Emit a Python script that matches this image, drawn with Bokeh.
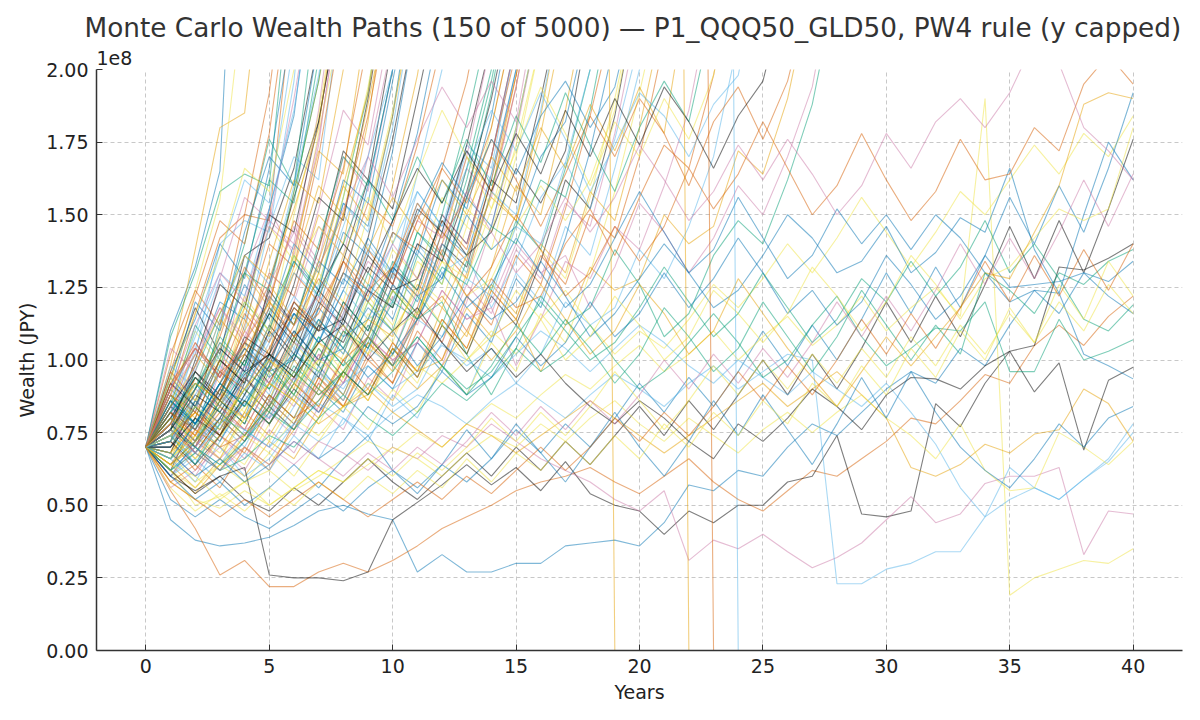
from bokeh.plotting import figure
from bokeh.models import ColumnDataSource, FixedTicker, NumeralTickFormatter, Title
from bokeh.embed import file_html
from bokeh.resources import INLINE

# ---------------- data (wealth in units of 1e8 JPY) ----------------
YEARS = list(range(41))
X_TICKS = [0, 5, 10, 15, 20, 25, 30, 35, 40]
Y_TICKS = [0.0, 0.25, 0.5, 0.75, 1.0, 1.25, 1.5, 1.75, 2.0]
TITLE = "Monte Carlo Wealth Paths (150 of 5000) \u2014 P1_QQQ50_GLD50, PW4 rule (y capped)"
SCALE_LABEL = "1e8"

# paths that stay (mostly) inside the capped range for 40 years
LOW_PATHS = [
    [0.70,0.45,0.38,0.36,0.37,0.39,0.43,0.48,0.50,0.47,0.45,0.27,0.33,0.27,0.27,0.30,0.30,0.36,0.37,0.38,0.36,0.44,0.57,0.55,0.62,0.60,0.70,0.78,0.74,0.82,0.90,0.96,0.92,1.04,0.98,1.12,1.24,1.16,1.30,1.27,1.34],
    [0.70,0.55,0.42,0.26,0.31,0.22,0.22,0.27,0.30,0.27,0.31,0.36,0.42,0.46,0.50,0.55,0.58,0.60,0.63,0.58,0.54,0.60,0.66,0.58,0.52,0.48,0.55,0.62,0.60,0.66,0.72,0.80,0.78,0.86,0.95,0.92,1.05,1.12,1.05,1.15,1.22],
    [0.70,0.60,0.55,0.60,0.63,0.26,0.25,0.25,0.24,0.27,0.45,0.51,0.57,0.64,0.57,0.63,0.55,0.65,0.54,0.50,0.48,0.40,0.48,0.44,0.50,0.50,0.58,0.60,0.74,0.47,0.46,0.48,0.85,0.77,0.92,1.03,1.05,1.32,1.31,1.35,1.40],
    [0.70,0.62,0.50,0.53,0.58,0.62,0.55,0.60,0.66,0.72,0.68,0.75,0.70,0.78,0.85,0.80,0.88,0.95,0.90,0.98,1.05,0.96,1.02,1.10,1.00,1.08,1.15,1.05,1.12,1.22,1.10,1.18,1.25,1.15,1.90,0.19,0.25,0.28,0.31,0.30,0.35],
    [0.70,0.78,0.72,0.66,0.75,0.70,0.64,0.72,0.68,0.62,0.70,0.66,0.74,0.70,0.78,0.72,0.66,0.62,0.58,0.52,0.48,0.55,0.31,0.38,0.35,0.40,0.34,0.285,0.32,0.37,0.45,0.53,0.44,0.47,0.575,0.60,0.60,0.63,0.33,0.48,0.47],
    [0.70,0.66,0.72,0.80,0.76,0.70,0.78,0.85,0.80,0.74,0.82,0.88,0.84,0.78,0.86,0.92,0.86,0.80,0.88,0.95,0.90,0.84,0.92,0.98,0.90,0.96,1.02,1.00,0.23,0.23,0.28,0.30,0.34,0.34,0.46,0.52,0.56,0.52,0.59,0.65,0.75],
    [0.70,0.74,0.68,0.78,0.85,0.80,0.88,0.82,0.92,0.98,0.90,0.96,1.05,1.00,0.94,1.02,1.10,1.04,0.96,1.04,1.12,1.06,0.98,0.92,1.00,0.94,0.88,0.96,0.90,0.84,0.92,0.82,0.71,0.56,0.46,0.63,0.56,0.52,0.59,0.66,0.78],
    [0.70,0.80,0.74,0.86,0.80,0.92,0.86,0.78,0.84,0.90,0.82,0.76,0.70,0.78,0.74,0.68,0.74,0.80,0.86,0.80,0.74,0.68,0.74,0.80,0.86,0.92,0.84,0.90,0.96,0.88,0.80,0.63,0.60,0.64,0.71,0.68,0.745,0.76,0.90,0.85,0.72],
    [0.70,0.58,0.52,0.49,0.55,0.50,0.56,0.62,0.58,0.64,0.70,0.66,0.60,0.68,0.74,0.70,0.78,0.72,0.80,0.86,0.78,0.72,0.80,0.74,0.68,0.76,0.82,0.75,0.82,0.88,0.80,0.74,0.66,0.78,0.62,0.55,0.56,0.75,0.70,0.64,0.72],
    [0.70,0.76,0.88,0.82,0.95,1.02,0.94,1.06,1.12,1.00,1.10,1.18,1.06,0.96,1.04,0.94,1.02,0.92,0.84,0.78,0.86,0.80,0.72,0.66,0.78,0.72,0.80,0.90,0.84,0.76,0.88,0.94,0.935,0.90,0.98,1.03,0.89,0.99,0.69,0.93,0.975],
    [0.70,0.82,0.76,0.90,0.86,0.98,1.10,1.00,1.04,1.18,1.10,0.98,1.08,1.22,1.14,1.20,1.34,1.22,1.08,1.16,1.28,1.40,1.30,1.18,1.24,1.36,1.50,1.42,1.30,1.34,1.46,1.30,1.37,1.49,1.44,1.66,1.38,1.23,1.02,0.98,0.935],
    [0.70,0.62,0.68,0.62,0.66,0.74,0.70,0.80,0.88,0.80,0.74,0.82,0.92,0.86,0.94,1.04,0.96,1.02,1.12,1.00,0.90,0.96,1.06,1.16,1.06,0.94,1.00,1.12,1.22,1.08,0.98,1.04,1.11,1.10,1.20,0.96,0.96,1.14,1.00,1.03,1.07],
    [0.70,0.76,0.70,0.64,0.72,0.82,0.76,0.86,0.96,0.88,0.96,1.08,0.98,0.90,0.96,1.08,1.20,1.10,1.00,1.06,1.18,1.32,1.20,1.08,1.16,1.30,1.18,1.06,1.14,1.28,1.20,1.34,1.22,1.32,1.48,1.30,1.40,1.28,1.14,1.10,1.19],
    [0.70,0.68,0.60,0.66,0.58,0.64,0.72,0.66,0.72,0.84,0.78,0.84,0.96,0.88,0.94,1.08,0.98,1.06,1.20,1.08,1.16,1.30,1.18,1.28,1.42,1.30,1.16,1.24,1.12,1.20,1.36,1.26,1.14,1.22,1.36,1.25,1.26,1.27,1.30,1.22,1.16],
    [0.70,0.86,0.78,0.92,1.04,0.94,1.02,1.14,1.04,0.94,1.02,1.14,1.30,1.18,1.26,1.42,1.30,1.18,1.26,1.42,1.58,1.44,1.30,1.38,1.56,1.42,1.28,1.36,1.52,1.40,1.50,1.38,1.50,1.42,1.30,1.20,1.24,1.23,1.50,1.75,1.62],
    [0.70,0.92,1.04,0.94,1.06,1.20,1.08,1.18,1.34,1.20,1.32,1.50,1.36,1.22,1.32,1.50,1.38,1.22,1.30,1.46,1.34,1.46,1.66,1.52,1.64,1.82,1.66,1.50,1.60,1.78,1.62,1.48,1.58,1.76,1.62,1.64,1.80,1.72,1.95,2.05,1.95],
    [0.70,0.74,0.84,0.78,0.90,1.00,0.92,1.00,1.12,1.02,1.10,1.24,1.12,1.00,1.08,1.24,1.14,1.00,1.08,1.22,1.12,1.00,1.08,1.24,1.16,1.06,1.16,1.32,1.22,1.10,1.20,1.36,1.26,1.14,1.28,1.32,1.42,1.52,1.48,1.52,1.80],
    [0.70,0.64,0.72,0.82,0.74,0.84,0.96,0.88,0.96,1.08,0.98,0.90,0.98,1.10,1.00,1.10,1.26,1.14,1.02,1.10,1.26,1.16,1.02,1.10,1.28,1.16,1.04,0.94,0.84,0.96,1.08,0.98,1.08,1.18,1.30,1.28,1.44,1.60,1.88,1.92,1.90],
    [0.70,0.90,1.04,0.94,1.06,1.22,1.12,1.22,1.10,1.24,1.40,1.28,1.40,1.58,1.44,1.30,1.40,1.56,1.44,1.56,1.74,1.62,1.48,1.58,1.74,1.62,1.76,1.64,1.50,1.60,1.78,1.66,1.82,1.90,1.80,1.92,2.10,2.02,1.80,1.72,1.62],
    [0.70,0.82,0.92,0.82,0.74,0.84,0.96,0.88,0.96,1.08,0.98,1.08,0.98,0.88,0.98,1.12,1.02,1.14,1.04,0.92,1.02,1.18,1.08,0.96,1.04,1.20,1.08,0.96,1.08,1.24,1.12,1.00,1.12,1.02,1.30,1.24,1.16,1.30,1.26,1.34,1.38],
    [0.70,0.60,0.52,0.58,0.50,0.56,0.64,0.56,0.66,0.74,0.62,0.54,0.64,0.76,0.66,0.78,0.68,0.58,0.70,0.82,0.70,0.60,0.72,0.86,0.74,0.88,0.76,0.64,0.78,0.94,0.80,0.96,0.82,0.70,0.62,0.56,0.66,0.78,0.70,0.80,0.84],
    [0.70,0.56,0.48,0.54,0.48,0.56,0.50,0.58,0.52,0.60,0.54,0.62,0.56,0.66,0.58,0.68,0.62,0.72,0.64,0.74,0.66,0.78,0.70,0.82,0.74,0.86,0.78,0.92,0.84,0.98,0.88,1.04,0.94,1.10,1.00,1.18,1.06,1.26,1.14,1.34,1.22],
    [0.70,0.64,0.60,0.52,0.58,0.50,0.56,0.62,0.58,0.66,0.60,0.68,0.62,0.70,0.80,0.72,0.82,0.74,0.84,0.96,0.86,0.76,0.86,0.98,0.88,1.00,0.90,1.02,0.92,1.04,0.94,1.08,0.98,1.12,1.02,1.16,1.06,1.20,1.10,1.26,1.16],
    [0.70,0.76,0.68,0.62,0.70,0.64,0.72,0.66,0.60,0.68,0.62,0.70,0.64,0.72,0.82,0.74,0.84,0.76,0.86,0.78,0.88,1.00,0.90,1.02,0.92,1.04,0.94,1.06,1.20,1.08,1.22,1.10,1.24,1.40,1.26,1.42,1.28,1.44,1.62,1.46,1.64],
    [0.70,0.58,0.52,0.46,0.52,0.46,0.52,0.58,0.52,0.46,0.52,0.58,0.52,0.60,0.54,0.62,0.70,0.62,0.70,0.80,0.72,0.82,0.74,0.84,0.96,0.86,0.98,0.88,1.00,1.14,1.02,1.16,1.04,1.18,1.34,1.20,1.36,1.22,1.38,1.24,1.40],
]
LOW_COLOR_KEYS = ["blue", "vermillion", "black", "yellow", "pink", "sky", "sky", "orange",
                  "yellow", "black", "blue", "green", "green", "blue", "blue", "vermillion",
                  "yellow", "orange", "pink", "green", "blue", "yellow", "yellow", "pink", "vermillion"]

# paths that leave the capped range in the middle years (~15-30)
MID_PATHS = [
    [0.70,0.78,0.66,0.74,0.84,0.92,1.06,0.96,1.04,1.20,1.10,1.16,1.34,1.22,1.28,1.46,1.60,1.48,1.62,1.86,2.30],
    [0.70,0.64,0.76,0.70,0.74,0.88,0.80,0.86,1.00,1.08,0.98,1.14,1.22,1.10,1.28,1.18,1.22,1.40,1.52,1.36,1.56,1.74,1.66,1.98,2.40],
    [0.70,0.82,0.94,0.86,0.92,1.08,1.16,1.06,1.24,1.14,1.20,1.40,1.30,1.36,1.18,1.34,1.56,1.68,1.52,1.76,2.10],
    [0.70,0.60,0.70,0.82,0.76,0.80,0.94,0.88,0.92,1.08,1.00,1.06,1.24,1.14,1.18,0.98,1.14,1.34,1.28,1.46,1.38,1.60,1.86,2.30],
    [0.70,0.76,0.90,1.04,0.96,1.02,1.18,1.10,1.14,1.32,1.24,1.28,1.48,1.36,1.44,1.66,1.54,1.72,2.20],
    [0.70,0.86,0.78,0.88,1.04,0.96,1.00,1.18,1.08,1.14,1.32,1.22,1.28,1.50,1.38,1.46,1.70,1.82,2.20],
    [0.70,0.62,0.54,0.64,0.70,0.64,0.76,0.90,0.84,0.88,1.04,0.96,1.00,1.18,1.08,1.14,0.96,1.12,1.32,1.24,1.28,1.50,1.40,1.46,1.72,1.64,1.90,2.30],
    [0.70,0.74,0.64,0.78,0.86,0.78,0.92,1.08,0.98,1.06,1.24,1.14,1.20,1.02,0.88,1.04,1.22,1.12,1.18,1.38,1.26,1.08,1.16,1.36,1.48,1.40,1.62,1.88,2.30],
    [0.70,0.68,0.58,0.64,0.74,0.68,0.80,0.74,0.84,0.92,0.86,0.98,0.92,1.00,1.10,1.02,1.14,1.24,1.12,1.02,1.10,1.04,1.14,1.26,1.18,1.28,1.40,1.30,1.42,1.56,1.44,1.32,1.44,1.58,1.50,1.62,1.74,1.64,1.78,1.70,1.84],
    [0.70,0.90,1.04,0.96,1.02,1.18,1.08,1.16,1.34,1.24,1.32,1.54,1.42,1.56,1.80,2.20],
    [0.70,0.66,0.78,0.70,0.60,0.66,0.78,0.72,0.78,0.92,0.84,0.90,1.06,0.98,1.04,0.92,1.02,1.20,1.12,1.18,1.38,1.28,1.46,1.70,2.10],
    [0.70,0.80,0.68,0.76,0.94,0.86,0.94,0.82,0.92,1.08,1.00,1.06,1.24,1.14,1.20,1.40,1.30,1.36,1.18,1.32,1.54,1.44,1.30,1.42,1.60,1.50,1.70,1.94,2.40],
    [0.70,0.62,0.54,0.60,0.52,0.48,0.56,0.50,0.58,0.66,0.58,0.52,0.60,0.68,0.60,0.70,0.62,0.72,0.64,0.74,0.84,0.74,0.86,0.76,0.88,1.00,0.88,1.02,0.90,1.04,1.20,1.06,1.22,1.08,1.26,1.46,1.28,1.48,1.30,1.52,1.76],
    [0.70,0.52,0.46,0.52,0.46,0.42,0.48,0.54,0.48,0.56,0.62,0.56,0.64,0.58,0.66,0.76,0.68,0.78,0.70,0.80,0.92,0.82,0.94,0.84,0.96,1.10,0.98,1.12,1.00,1.14,1.30,1.16,1.32,1.18,1.36,1.56,1.40,1.60,1.44,1.66,1.92],
    [0.70,0.74,0.82,0.76,0.90,1.00,0.94,1.06,1.00,1.14,1.08,1.26,1.18,1.36,1.56,1.48,1.78,2.20],
    [0.70,0.80,0.72,0.84,0.96,0.90,1.02,0.96,1.10,1.04,1.20,1.14,1.32,1.26,1.46,1.40,1.62,1.56,1.86,2.30],
    [0.70,0.66,0.74,0.84,0.80,0.92,0.86,1.00,0.94,1.08,1.24,1.16,1.34,1.28,1.52,1.80,2.20],
    [0.70,0.88,0.82,0.96,0.90,1.04,1.20,1.12,1.30,1.22,1.44,1.38,1.66,1.96,2.40],
    [0.70,0.62,0.70,0.64,0.76,0.70,0.84,0.96,0.90,1.04,0.98,1.14,1.08,1.28,1.22,1.46,1.40,1.68,2.00,2.40],
    [0.70,0.78,0.90,0.84,0.98,0.92,1.06,1.00,1.16,1.34,1.26,1.48,1.42,1.70,2.10],
    [0.70,0.70,0.80,0.74,0.88,1.02,0.96,1.12,1.06,1.24,1.18,1.40,1.34,1.58,1.90,2.30],
    [0.70,0.84,0.78,0.92,1.06,1.00,1.16,1.10,1.30,1.24,1.48,1.78,2.20],
    [0.70,0.86,1.02,0.92,1.10,1.26,1.14,1.32,1.50,1.38,1.56,1.44,1.62,1.50,1.70,1.58,1.80,1.66,1.88,1.72,1.94,1.78,2.30],
    [0.70,0.76,0.90,1.06,0.98,1.16,1.34,1.22,1.40,1.62,1.48,1.70,1.54,1.76,1.60,1.84,1.68,1.92,1.74,1.58,1.80,1.96,1.82,2.20],
    [0.70,0.94,0.86,1.04,1.20,1.10,1.30,1.46,1.36,1.56,1.40,1.64,1.86,1.70,1.52,1.72,1.94,1.78,1.60,1.82,1.70,1.90,1.76,1.98,2.40],
    [0.70,0.82,0.74,0.90,1.04,0.96,1.12,1.28,1.18,1.38,1.26,1.48,1.66,1.54,1.76,1.62,1.46,1.64,1.84,1.70,1.90,1.78,1.60,1.82,1.94,1.76,1.96,2.30],
    [0.70,0.72,0.84,0.98,0.90,1.06,1.22,1.12,1.30,1.20,1.40,1.58,1.46,1.66,1.86,1.72,1.92,1.76,1.58,1.74,1.92,1.84,1.70,1.88,1.98,2.40],
    [0.70,0.88,1.02,1.18,1.08,1.26,1.44,1.32,1.52,1.70,1.56,1.76,1.94,1.80,1.96,1.82,2.30],
    [0.70,0.80,0.94,0.86,1.00,1.16,1.06,1.24,1.40,1.30,1.48,1.66,1.54,1.72,1.58,1.78,1.64,1.86,1.70,1.90,1.74,1.94,1.82,1.66,1.84,1.96,2.30],
    [0.70,0.66,0.78,0.92,0.84,1.00,1.16,1.06,1.24,1.42,1.30,1.50,1.68,1.56,1.76,1.64,1.84,1.96,1.80,1.94,2.30],
]

# paths that run above the cap early
HIGH_PATHS = [
    [0.70,1.10,1.32,1.65,3.40],
    [0.70,0.98,1.38,1.80,1.85,2.60],
    [0.70,1.08,1.30,1.58,1.64,1.60,2.45],
    [0.70,0.92,1.24,1.55,2.30],
    [0.70,0.88,1.16,1.42,1.50,1.48,2.30],
    [0.70,0.84,1.02,1.40,1.48,1.44,1.96,2.80],
    [0.70,0.80,1.06,0.94,1.30,1.52,1.36,1.74,2.35],
    [0.70,0.94,1.18,1.02,1.36,1.42,1.66,2.10],
    [0.70,0.76,0.98,1.20,1.14,1.52,1.84,2.50],
    [0.70,0.66,0.84,1.10,1.30,1.18,1.58,1.96,2.40],
    [0.70,0.90,0.82,1.12,1.40,1.76,1.60,2.30],
    [0.70,0.74,0.92,0.86,1.18,1.46,1.34,1.78,2.20],
    [0.70,1.02,1.24,1.12,1.50,1.92,2.60],
    [0.70,0.78,1.04,1.28,1.10,1.46,1.70,1.62,2.30],
    [0.70,0.86,0.72,0.96,1.22,1.48,1.40,1.86,2.50],
    [0.70,0.62,0.80,1.00,0.92,1.26,1.56,1.82,2.30],
    [0.70,0.96,1.14,1.40,1.28,1.66,2.20],
    [0.70,0.82,0.70,0.88,1.14,1.02,1.38,1.72,1.64,2.20],
    [0.70,0.72,0.96,1.16,1.30,1.62,1.54,2.04,2.60],
    [0.70,0.88,1.10,0.98,1.22,1.10,1.50,1.84,2.40],
    [0.70,0.96,1.22,1.48,1.40,1.78,2.40],
    [0.70,0.82,1.10,1.36,1.62,1.54,2.10],
    [0.70,1.04,0.96,1.28,1.56,1.48,1.90,2.40],
    [0.70,0.76,1.00,1.26,1.18,1.50,1.44,1.82,2.30],
    [0.70,0.90,1.20,1.10,1.44,1.70,1.60,2.10],
    [0.70,0.68,0.90,1.14,1.04,1.34,1.62,1.54,2.00,2.40],
    [0.70,0.84,1.12,1.00,1.30,1.24,1.58,1.96,2.50],
    [0.70,0.94,1.16,1.36,1.66,1.58,2.00,2.50],
    [0.70,0.72,0.94,0.86,1.12,1.40,1.32,1.70,2.20],
    [0.70,0.86,1.08,1.30,1.22,1.52,1.86,2.40],
    [0.70,0.92,0.82,1.06,0.96,1.22,1.46,1.34,1.70,1.58,2.00,2.50],
    [0.70,0.68,0.86,0.78,0.98,1.24,1.12,1.38,1.72,1.62,2.10],
    [0.70,0.60,0.72,0.90,0.80,1.02,0.92,1.18,1.44,1.36,1.72,2.20],
    [0.70,0.78,0.94,0.84,1.06,1.30,1.22,1.50,1.40,1.82,2.40],
    [0.70,0.84,0.76,0.98,1.20,1.10,1.36,1.24,1.56,1.92,2.50],
    [0.70,0.66,0.80,0.72,0.94,0.86,1.08,1.30,1.20,1.50,1.86,2.30],
    [0.70,0.96,0.86,1.08,1.32,1.20,1.48,1.38,1.66,2.10],
    [0.70,0.76,0.64,0.80,0.96,1.16,1.04,1.26,1.54,1.44,1.80,2.30],
    [0.70,0.82,0.98,1.18,1.06,1.30,1.22,1.52,1.86,1.74,2.20],
    [0.70,0.70,0.84,0.74,0.92,1.12,1.02,1.24,1.14,1.42,1.76,2.20],
    [0.70,0.88,0.78,0.96,0.88,1.10,1.34,1.24,1.54,1.46,1.84,2.40],
    [0.70,0.62,0.74,0.66,0.82,1.00,0.90,1.12,1.36,1.26,1.60,1.98,2.50],
    [0.70,0.80,0.90,1.08,0.98,1.22,1.12,1.40,1.70,1.60,2.00],
    [0.70,0.74,0.86,1.02,0.92,1.12,1.36,1.26,1.56,1.94,2.40],
    [0.70,0.90,1.06,0.94,1.16,1.06,1.30,1.20,1.50,1.84,2.30],
    [0.70,0.66,0.58,0.72,0.88,0.80,1.00,1.22,1.12,1.38,1.30,1.64,2.00,2.40],
    [0.70,0.84,0.74,0.92,1.10,1.00,1.20,1.46,1.36,1.70,2.10],
    [0.70,0.78,0.70,0.86,0.78,0.98,1.20,1.10,1.34,1.62,1.52,1.90,2.30],
    [0.70,0.94,0.84,1.04,1.26,1.14,1.40,1.30,1.62,1.54,1.96,2.40],
    [0.70,0.72,0.82,0.74,0.94,0.86,1.06,1.30,1.60,1.48,1.84,2.30],
    [0.70,0.64,0.72,0.86,0.78,0.96,0.88,1.08,0.98,1.20,1.10,1.36,1.26,1.56,1.92,2.40],
    [0.70,0.80,0.72,0.66,0.80,0.96,0.86,1.04,0.94,1.14,1.38,1.28,1.56,1.46,1.80,2.20],
    [0.70,0.58,0.64,0.56,0.70,0.62,0.78,0.94,0.84,1.02,0.92,1.14,1.38,1.28,1.58,1.94,2.40],
    [0.70,0.76,0.86,0.78,0.94,0.86,1.04,0.94,1.16,1.40,1.28,1.54,1.44,1.72,1.62,2.00,2.50],
    [0.70,0.68,0.60,0.74,0.66,0.82,0.74,0.92,1.10,1.00,1.22,1.12,1.36,1.66,1.56,1.94,2.40],
    [0.70,0.84,0.96,0.86,1.02,0.92,1.10,1.00,1.20,1.10,1.32,1.24,1.50,1.40,1.70,2.10],
    [0.70,0.62,0.70,0.80,0.72,0.88,0.80,0.98,0.88,1.08,1.30,1.20,1.44,1.36,1.64,2.00,2.50],
    [0.70,0.74,0.66,0.78,0.90,0.82,1.00,0.90,1.10,1.02,1.24,1.14,1.40,1.70,1.58,1.98,2.40],
    [0.70,0.88,0.78,0.92,0.84,1.02,0.94,1.14,1.04,1.26,1.18,1.44,1.36,1.66,2.00,2.60],
    [0.70,0.66,0.76,0.70,0.64,0.78,0.92,0.84,1.02,1.22,1.12,1.34,1.26,1.52,1.44,1.74,2.10],
    [0.70,0.72,0.62,0.74,0.68,0.84,0.76,0.94,0.86,1.06,0.98,1.18,1.44,1.34,1.62,1.98,2.40],
    [0.70,0.80,0.92,0.82,0.98,0.88,1.06,0.98,1.18,1.08,1.30,1.58,1.46,1.74,1.66,2.10],
    [0.70,0.56,0.62,0.70,0.62,0.76,0.68,0.84,0.76,0.94,0.86,1.06,0.98,1.20,1.46,1.78,2.20],
    [0.70,0.78,0.68,0.80,0.94,0.84,1.02,0.94,1.14,1.04,1.26,1.16,1.40,1.32,1.62,1.54,1.90,2.30],
    [0.70,0.86,0.76,0.90,1.06,0.96,1.16,1.06,1.28,1.20,1.44,1.36,1.62,1.52,1.84,2.30],
    [0.70,0.64,0.70,0.62,0.74,0.88,0.80,0.96,0.88,1.06,0.96,1.16,1.06,1.30,1.58,1.48,1.84,2.30],
    [0.70,0.74,0.84,0.76,0.90,0.82,0.98,0.90,1.08,1.30,1.20,1.44,1.34,1.62,1.96,2.40],
    [0.70,0.68,0.78,0.90,0.82,0.98,0.88,1.06,0.96,1.16,1.06,1.28,1.20,1.46,1.38,1.70,2.10],
    [0.70,0.82,0.72,0.84,0.76,0.92,1.08,0.98,1.18,1.08,1.30,1.22,1.48,1.38,1.70,2.06,2.50],
    [0.70,0.60,0.68,0.78,0.70,0.86,0.78,0.96,0.86,1.04,1.26,1.16,1.40,1.30,1.58,1.50,1.86,2.30],
    [0.70,0.76,0.70,0.84,0.76,0.92,0.84,1.02,0.92,1.12,1.02,1.24,1.50,1.40,1.70,2.10],
    [0.70,0.92,0.84,1.00,0.92,1.10,1.00,1.20,1.12,1.36,1.26,1.52,1.44,1.74,2.10],
    [0.70,0.70,0.80,0.72,0.86,0.78,0.94,1.12,1.02,1.24,1.14,1.38,1.28,1.56,1.46,1.80,2.20],
    [0.70,0.64,0.56,0.66,0.60,0.72,0.66,0.80,0.96,0.88,1.06,0.96,1.18,1.08,1.32,1.60,1.50,1.86,2.30],
    [0.70,0.82,0.94,0.84,1.00,0.90,1.08,0.98,1.20,1.10,1.34,1.24,1.50,1.82,2.20],
    [0.70,0.66,0.74,0.68,0.80,0.72,0.86,0.78,0.94,0.86,1.02,0.92,1.12,1.02,1.24,1.14,1.38,1.28,1.56,1.90,2.30],
    [0.70,0.76,0.68,0.80,0.72,0.86,0.78,0.92,0.84,1.00,0.92,1.10,1.00,1.22,1.12,1.36,1.26,1.52,1.84,2.20],
    [0.70,0.60,0.66,0.58,0.68,0.62,0.74,0.66,0.80,0.72,0.88,0.80,0.98,0.88,1.08,1.30,1.20,1.46,1.36,1.66,2.00,2.40],
    [0.70,0.84,0.76,0.88,0.80,0.94,0.86,1.02,0.92,1.08,0.98,1.16,1.06,1.26,1.16,1.38,1.28,1.54,1.46,1.78,2.20],
    [0.70,0.72,0.64,0.74,0.86,0.78,0.90,0.82,0.96,0.88,1.04,0.94,1.12,1.02,1.22,1.12,1.34,1.62,1.52,1.84,2.30],
    [0.70,0.78,0.70,0.62,0.72,0.84,0.76,0.90,0.82,0.98,0.90,1.06,0.96,1.16,1.06,1.28,1.18,1.42,1.72,2.10],
    [0.70,0.68,0.78,0.70,0.82,0.74,0.88,0.80,0.96,0.86,1.04,0.94,1.14,1.04,1.26,1.16,1.40,1.30,1.58,1.48,1.80,2.20],
    [0.70,0.86,0.78,0.92,0.84,0.98,0.88,1.04,0.94,1.12,1.02,1.22,1.12,1.34,1.24,1.48,1.38,1.66,2.00,2.40],
    [0.70,0.62,0.56,0.64,0.58,0.68,0.60,0.72,0.84,0.76,0.90,0.82,0.98,0.88,1.06,0.96,1.16,1.06,1.30,1.58,1.92,2.30],
    [0.70,0.74,0.82,0.74,0.86,0.78,0.92,0.84,1.00,0.90,1.06,0.96,1.14,1.04,1.24,1.14,1.36,1.26,1.50,1.42,1.70,2.10],
    [0.70,0.98,0.90,1.14,1.36,1.26,1.60,1.98,2.50],
    [0.70,0.90,1.12,1.30,1.20,1.46,1.38,1.76,2.30],
    [0.70,0.78,0.96,0.88,1.08,1.02,1.26,1.56,1.48,1.90,2.40],
    [0.70,0.72,0.86,1.04,0.96,1.18,1.08,1.34,1.26,1.60,2.00],
    [0.70,0.88,0.80,1.00,1.18,1.08,1.32,1.60,1.50,1.88,2.30],
]

# paths depleted to zero (steep drop from far above the cap)
DEPLETED_PATHS = [
    [0.70,0.84,0.98,1.16,1.36,1.28,1.52,1.80,2.40,2.90,3.30,3.80,4.40,4.90,5.60,6.20,7.00,7.80,9.00,0.00],
    [0.70,0.78,0.92,0.86,1.02,1.20,1.12,1.34,1.60,1.92,2.40,2.80,3.30,3.80,4.40,5.00,5.80,6.50,7.40,8.20,9.00,10.0,0.00],
    [0.70,0.82,0.76,0.90,1.06,1.00,1.18,1.10,1.30,1.54,1.46,1.74,2.10,2.60,3.00,3.50,4.10,4.80,5.50,6.30,7.20,8.00,9.00,0.00],
    [0.70,0.74,0.88,1.02,0.94,1.12,1.30,1.22,1.46,1.70,2.00,2.40,2.90,3.40,4.00,4.60,5.20,5.90,6.60,7.40,8.20,9.00,9.80,10.5,0.00],
]
DEPLETED_COLOR_KEYS = ["orange", "orange", "vermillion", "sky"]

# ---------------- styling ----------------
PALETTE = {
    "blue": "#0072B2", "orange": "#E69F00", "green": "#009E73", "vermillion": "#D55E00",
    "sky": "#56B4E9", "yellow": "#F0E442", "pink": "#CC79A7", "black": "#000000",
}
CYCLE = ["blue", "orange", "green", "yellow", "vermillion", "sky", "pink", "black"]

xs, ys, colors = [], [], []

def add(path, key):
    n = min(len(path), len(YEARS))
    xs.append(YEARS[:n])
    ys.append(path[:n])
    colors.append(PALETTE[key])

for i, path in enumerate(HIGH_PATHS):
    add(path, CYCLE[i % len(CYCLE)])
for i, path in enumerate(MID_PATHS):
    add(path, CYCLE[(i + 3) % len(CYCLE)])
for path, key in zip(LOW_PATHS, LOW_COLOR_KEYS):
    add(path, key)
for path, key in zip(DEPLETED_PATHS, DEPLETED_COLOR_KEYS):
    add(path, key)

src = ColumnDataSource(dict(xs=xs, ys=ys, color=colors))

FONT = "DejaVu Sans"
p = figure(width=1192, height=705, x_range=(-2, 42), y_range=(0, 2.0),
           output_backend="svg", toolbar_location=None, title=None,
           min_border_left=96, min_border_right=10, min_border_top=69, min_border_bottom=10)

p.multi_line(xs="xs", ys="ys", line_color="color", line_alpha=0.5, line_width=1.1, source=src)

scale_title = Title(text=SCALE_LABEL, align="left", text_font=FONT, text_font_size="19px",
                    text_font_style="normal", text_color="#222222", standoff=9, offset=0)
main_title = Title(text=TITLE, align="left", text_font=FONT, text_font_size="26.3px",
                   text_font_style="normal", text_color="#333333", standoff=4, offset=-12)
p.add_layout(scale_title, "above")
p.add_layout(main_title, "above")

p.xaxis.ticker = FixedTicker(ticks=X_TICKS)
p.yaxis.ticker = FixedTicker(ticks=Y_TICKS)
p.yaxis.formatter = NumeralTickFormatter(format="0.00")
p.xaxis.axis_label = "Years"
p.yaxis.axis_label = "Wealth (JPY)"
for ax in (p.xaxis, p.yaxis):
    ax.axis_label_text_font = FONT
    ax.axis_label_text_font_size = "19px"
    ax.axis_label_text_font_style = "normal"
    ax.axis_label_text_color = "#222222"
    ax.major_label_text_font = FONT
    ax.major_label_text_font_size = "19px"
    ax.major_label_text_color = "#222222"
    ax.axis_line_color = "#333333"
    ax.axis_line_width = 1.5
    ax.major_tick_in = 6
    ax.major_tick_out = 0
    ax.major_tick_line_color = "#333333"
    ax.minor_tick_line_color = None
p.xaxis.major_label_standoff = 8
p.yaxis.major_label_standoff = 8

p.xgrid.ticker = FixedTicker(ticks=X_TICKS)
p.ygrid.ticker = FixedTicker(ticks=Y_TICKS)
for g in (p.xgrid, p.ygrid):
    g.grid_line_color = "#c8c8c8"
    g.grid_line_dash = "4 3"
    g.grid_line_width = 1

p.outline_line_color = None
p.background_fill_color = "white"

open("out.html", "w").write(file_html(p, INLINE))
